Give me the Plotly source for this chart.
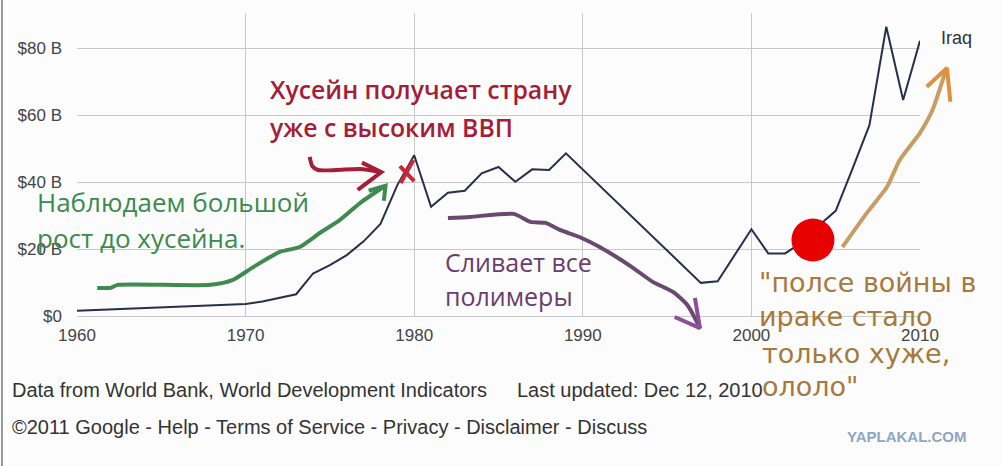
import plotly.graph_objects as go

# ---------------- data (Iraq GDP, current US$, billions) ----------------
years = [1960, 1961, 1962, 1963, 1964, 1965, 1966, 1967, 1968, 1969,
         1970, 1971, 1972, 1973, 1974, 1975, 1976, 1977, 1978, 1979,
         1980, 1981, 1982, 1983, 1984, 1985, 1986, 1987, 1988, 1989,
         1997, 1998, 2000, 2001, 2002, 2003, 2004, 2005, 2006, 2007,
         2008, 2009, 2010]
gdp_billion = [1.6, 1.8, 1.9, 2.0, 2.2, 2.4, 2.6, 2.8, 3.0, 3.3,
               3.6, 4.3, 5.5, 6.5, 12.7, 15.2, 18.2, 22.3, 27.5, 39.1,
               48.0, 32.6, 36.8, 37.4, 42.6, 44.5, 40.1, 43.8, 43.6, 48.6,
               9.9, 10.4, 25.9, 18.7, 18.7, 22.0, 27.0, 31.4, 44.0, 57.0,
               86.4, 64.5, 82.2]
series_name = "Iraq"

x_tick_vals = [1960, 1970, 1980, 1990, 2000, 2010]
x_tick_text = ["1960", "1970", "1980", "1990", "2000", "2010"]
y_tick_vals = [0, 20, 40, 60, 80]
y_tick_text = ["$0", "$20 B", "$40 B", "$60 B", "$80 B"]

# hand-drawn overlay doodles (in year / $B units)
green_arrow_x = [1961.2, 1962.0, 1962.4, 1967.9, 1969.25, 1970.45, 1972.0, 1973.2, 1974.4, 1975.6, 1976.8, 1978.2]
green_arrow_y = [8.4, 8.4, 9.3, 9.3, 10.8, 14.6, 19.1, 20.6, 24.8, 28.7, 33.8, 38.6]
green_head_x = [1977.3, 1978.3, 1978.2]
green_head_y = [37.4, 38.9, 34.4]

red_arrow_x = [1973.8, 1973.95, 1974.3, 1975.4, 1976.8, 1978.0]
red_arrow_y = [47.5, 44.8, 43.6, 43.6, 43.9, 43.0]
red_head_x = [1976.9, 1978.05, 1976.65]
red_head_y = [45.8, 43.0, 37.7]
red_x1_x = [1979.15, 1980.0]
red_x1_y = [44.8, 40.3]
red_x2_x = [1979.95, 1979.2]
red_x2_y = [46.6, 39.7]

purple_arrow_x = [1982.0, 1983.3, 1985.9, 1986.9, 1987.8, 1988.65, 1989.8, 1991.0, 1992.0, 1993.0, 1994.15, 1995.35, 1996.2, 1996.95]
purple_arrow_y = [29.3, 29.6, 30.5, 28.1, 27.8, 25.7, 23.6, 20.6, 17.6, 14.3, 10.2, 7.2, 3.3, -3.6]
purple_head_x = [1996.65, 1996.95, 1995.45]
purple_head_y = [5.4, -3.6, -0.3]

orange_arrow_x = [2005.4, 2006.85, 2008.05, 2008.8, 2010.0, 2010.75, 2011.35, 2011.6]
orange_arrow_y = [20.6, 30.8, 38.6, 46.6, 54.7, 61.6, 70.5, 74.1]
orange_head_x = [2010.4, 2011.6, 2011.8]
orange_head_y = [68.5, 74.1, 64.0]

red_dot_x = [2003.65]
red_dot_y = [22.7]

# ---------------- layout geometry ----------------
W, H = 1001, 466
x_range = [1960, 2010]
y_range = [0, 90.5]
x_dom = [77 / W, 920 / W]
y_dom = [(H - 316) / H, (H - 13) / H]

# full-figure overlay axes sharing the same data units
xs = (x_range[1] - x_range[0]) / (x_dom[1] - x_dom[0])
ys = (y_range[1] - y_range[0]) / (y_dom[1] - y_dom[0])
x2_range = [x_range[0] - x_dom[0] * xs, x_range[0] + (1 - x_dom[0]) * xs]
y2_range = [y_range[0] - y_dom[0] * ys, y_range[0] + (1 - y_dom[0]) * ys]

fig = go.Figure()

fig.add_trace(go.Scatter(
    x=years, y=gdp_billion, mode="lines", name=series_name,
    line=dict(color="#26304a", width=2), hoverinfo="skip",
    xaxis="x", yaxis="y", showlegend=False))


def doodle(xv, yv, color, width=4, spline=True):
    fig.add_trace(go.Scatter(
        x=xv, y=yv, mode="lines", xaxis="x2", yaxis="y2",
        line=dict(color=color, width=width, shape="spline" if spline else "linear", smoothing=0.6),
        hoverinfo="skip", showlegend=False))


GREEN = "#3f8a4e"
RED = "#a51d37"
PURPLE = "#6b4870"
ORANGE = "#c89c62"

doodle(green_arrow_x, green_arrow_y, GREEN)
doodle(green_head_x, green_head_y, GREEN, spline=False)
doodle(red_arrow_x, red_arrow_y, RED)
doodle(red_head_x, red_head_y, RED, spline=False)
doodle(red_x1_x, red_x1_y, "#c8283a", spline=False)
doodle(red_x2_x, red_x2_y, "#c8283a", spline=False)
doodle(purple_arrow_x, purple_arrow_y, PURPLE)
doodle(purple_head_x, purple_head_y, "#8a4f96", spline=False)
doodle(orange_arrow_x, orange_arrow_y, ORANGE)
doodle(orange_head_x, orange_head_y, "#e0913e", spline=False)

fig.add_trace(go.Scatter(
    x=red_dot_x, y=red_dot_y, mode="markers", xaxis="x2", yaxis="y2",
    marker=dict(color="#e60000", size=43, line=dict(width=0)),
    hoverinfo="skip", showlegend=False))

ann = []


def text(x, y, s, color, size, family="Open Sans", weight="normal", ref="data", xanchor="left"):
    d = dict(x=x, y=y, text=s, showarrow=False, xanchor=xanchor, yanchor="middle",
             font=dict(family=family, size=size, color=color, weight=weight))
    if ref == "data":
        d.update(xref="x2", yref="y2")
    else:
        d.update(xref="paper", yref="paper")
    ann.append(d)


# footer & watermark
FOOT = "Liberation Sans, Arial, sans-serif"
text(10 / W, (H - 390) / H, "Data from World Bank, World Development Indicators", "#333333", 20, FOOT, ref="paper")
text(515 / W, (H - 390) / H, "Last updated: Dec 12, 2010", "#333333", 20, FOOT, ref="paper")
text(10 / W, (H - 427) / H, "©2011 Google - Help - Terms of Service - Privacy - Disclaimer - Discuss", "#333333", 20, FOOT, ref="paper")
text(906 / W, (H - 436) / H, "YAPLAKAL.COM", "#8ea7bd", 15, "Liberation Sans", weight="bold", ref="paper", xanchor="center")

# series label
text(2011.15, 83.1, series_name, "#333333", 18, FOOT)

# Russian notes
text(1971.33, 67.9, "Хусейн получает страну", RED, 24.8, weight=600)
text(1971.33, 56.5, "уже с высоким ВВП", RED, 24.8, weight=600)
text(1957.5, 34.1, "Наблюдаем большой", "#3b8a4e", 26, weight=500)
text(1957.5, 23.3, "рост до хусейна.", "#3b8a4e", 26, weight=500)
text(1981.71, 16.1, "Сливает все", "#6a3d6e", 25)
text(1981.71, 6.0, "полимеры", "#6a3d6e", 25)
OR = "#a6793c"
text(2000.33, 10.0, "\"полсе войны в", OR, 27, "DejaVu Sans")
text(2000.33, 0.0, "ираке стало", OR, 27, "DejaVu Sans")
text(2000.5, -11.1, "только хуже,", OR, 27, "DejaVu Sans")
text(2000.5, -21.2, "ололо\"", OR, 27, "DejaVu Sans")

fig.update_layout(
    width=W, height=H, autosize=False,
    margin=dict(l=0, r=0, t=0, b=0, pad=0),
    paper_bgcolor="#fcfcfc", plot_bgcolor="rgba(0,0,0,0)",
    showlegend=False, hovermode=False,
    annotations=ann,
    shapes=[dict(type="line", xref="paper", yref="paper", x0=0.002, x1=0.002, y0=0, y1=1,
                 line=dict(color="#9a9a9a", width=2))],
    xaxis=dict(domain=x_dom, range=x_range, tickvals=x_tick_vals, ticktext=x_tick_text,
               showgrid=True, gridcolor="#c8c8c8", gridwidth=1, zeroline=False, showline=False,
               ticks="", ticklabelstandoff=7, anchor="y", automargin=False,
               tickfont=dict(family=FOOT, size=17, color="#444444"), fixedrange=True),
    yaxis=dict(domain=y_dom, range=y_range, tickvals=y_tick_vals, ticktext=y_tick_text,
               showgrid=True, gridcolor="#c8c8c8", gridwidth=1, zeroline=True,
               zerolinecolor="#c8c8c8", zerolinewidth=1, showline=False,
               ticks="", ticklabelstandoff=14, anchor="x", automargin=False,
               tickfont=dict(family=FOOT, size=17, color="#444444"), fixedrange=True),
    xaxis2=dict(domain=[0, 1], range=x2_range, visible=False, anchor="y2", fixedrange=True, automargin=False),
    yaxis2=dict(domain=[0, 1], range=y2_range, visible=False, anchor="x2", fixedrange=True, automargin=False),
)

fig.write_html(
    "out.html",
    config={"displayModeBar": False, "staticPlot": True},
    post_script="document.body.style.margin='0';document.body.style.background='#fcfcfc';",
)
